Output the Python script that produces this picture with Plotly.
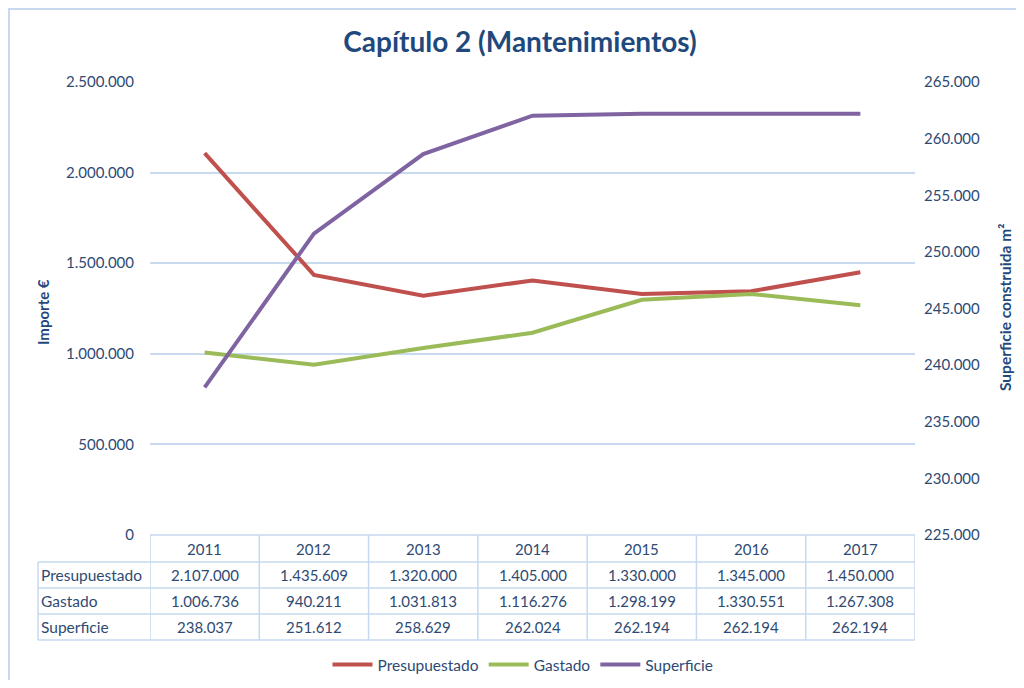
import plotly.graph_objects as go

years = ["2011", "2012", "2013", "2014", "2015", "2016", "2017"]
presupuestado = [2107000, 1435609, 1320000, 1405000, 1330000, 1345000, 1450000]
gastado = [1006736, 940211, 1031813, 1116276, 1298199, 1330551, 1267308]
superficie = [238037, 251612, 258629, 262024, 262194, 262194, 262194]
series_names = ["Presupuestado", "Gastado", "Superficie"]
left_ticks = [0, 500000, 1000000, 1500000, 2000000, 2500000]
right_ticks = [225000, 230000, 235000, 240000, 245000, 250000, 255000, 260000, 265000]

OFF = 8  # page body margin
W, H = 1024 - 2 * OFF, 688 - 2 * OFF
# plot area in reference (screen) pixels
L, R, T, B = 150, 915, 82, 535
PW, PH = R - L, B - T

def px(x):
    return (x - L) / PW

def py(y):
    return (B - y) / PH

def fmt(v):
    return f"{v:,}".replace(",", ".")

RED = "#C0504D"
GREEN = "#9BBB59"
PURPLE = "#8064A2"
TXT = "#2E4A73"
NAVY = "#1F497D"
GRID = "#C9DAEE"
FONT = "Lato"
FS = 15.5
FN = 15

fig = go.Figure()
xs = list(range(len(years)))
fig.add_trace(go.Scatter(x=xs, y=presupuestado, name=series_names[0], mode="lines",
                         line=dict(color=RED, width=4)))
fig.add_trace(go.Scatter(x=xs, y=gastado, name=series_names[1], mode="lines",
                         line=dict(color=GREEN, width=4)))
fig.add_trace(go.Scatter(x=xs, y=superficie, name=series_names[2], mode="lines",
                         line=dict(color=PURPLE, width=4), yaxis="y2"))

shapes = []
annotations = []

# outer chart border
shapes.append(dict(type="rect", xref="paper", yref="paper", x0=px(9), x1=px(1030),
                   y0=py(700), y1=py(9), line=dict(color="#C6D9F0", width=2), layer="below"))

# table geometry
row_edges = [535, 562, 588, 614, 640]
row_lbl_x0 = 38
tbl_line = dict(color="#C6D9F0", width=1.5)
for i, yy in enumerate(row_edges):
    x0 = px(row_lbl_x0) if i >= 1 else 0
    shapes.append(dict(type="line", xref="paper", yref="paper", x0=x0, x1=1,
                       y0=py(yy), y1=py(yy), line=tbl_line))
for k in range(len(years) + 1):
    shapes.append(dict(type="line", xref="x", yref="paper", x0=k - 0.5, x1=k - 0.5,
                       y0=py(row_edges[-1]), y1=py(row_edges[0]), line=tbl_line))
shapes.append(dict(type="line", xref="paper", yref="paper", x0=px(row_lbl_x0), x1=px(row_lbl_x0),
                   y0=py(row_edges[-1]), y1=py(row_edges[1]), line=tbl_line))

for k, yr in enumerate(years):
    annotations.append(dict(x=k, y=py((row_edges[0] + row_edges[1]) / 2), xref="x", yref="paper",
                            text=yr, showarrow=False, xanchor="center", yanchor="middle",
                            font=dict(family=FONT, size=FN, color=TXT)))
rows = [presupuestado, gastado, superficie]
for r, (name, vals) in enumerate(zip(series_names, rows)):
    yc = py((row_edges[r + 1] + row_edges[r + 2]) / 2)
    annotations.append(dict(x=px(row_lbl_x0 + 1), y=yc, xref="paper", yref="paper", text=name,
                            xanchor="left", yanchor="middle", showarrow=False,
                            font=dict(family=FONT, size=FS, color=TXT)))
    for k, v in enumerate(vals):
        annotations.append(dict(x=k, y=yc, xref="x", yref="paper", text=fmt(v), showarrow=False,
                                xanchor="center", yanchor="middle",
                                font=dict(family=FONT, size=FN, color=TXT)))

annotations.append(dict(x=px(43), y=py(312), xref="paper", yref="paper", text="<b>Importe €</b>",
                        textangle=-90, showarrow=False, xanchor="center", yanchor="middle",
                        font=dict(family=FONT, size=15, color=NAVY)))
annotations.append(dict(x=px(1005), y=py(308), xref="paper", yref="paper",
                        text="<b>Superficie construida m²</b>", textangle=-90, showarrow=False,
                        xanchor="center", yanchor="middle",
                        font=dict(family=FONT, size=15.5, color=NAVY)))

fig.update_layout(
    width=W, height=H,
    margin=dict(l=L - OFF, r=W - (R - OFF), t=T - OFF, b=H - (B - OFF), autoexpand=False),
    paper_bgcolor="white", plot_bgcolor="white",
    title=dict(text="<b>Capítulo 2 (Mantenimientos)</b>", x=(520 - OFF) / W, xanchor="center",
               y=1 - (42 - OFF) / H, yanchor="middle", font=dict(family=FONT, size=28, color=NAVY)),
    xaxis=dict(range=[-0.5, len(years) - 0.5], showticklabels=False, showgrid=False,
               zeroline=False, showline=False, fixedrange=True),
    yaxis=dict(range=[0, 2500000], tickvals=left_ticks, ticktext=[fmt(v) for v in left_ticks],
               showgrid=True, gridcolor=GRID, gridwidth=1.5, zeroline=False, showline=False,
               ticks="", ticklabelstandoff=15,
               tickfont=dict(family=FONT, size=FN, color=TXT)),
    yaxis2=dict(range=[225000, 265000], tickvals=right_ticks, ticktext=[fmt(v) for v in right_ticks],
                overlaying="y", side="right", showgrid=False, zeroline=False, showline=False,
                ticks="", ticklabelstandoff=8,
                tickfont=dict(family=FONT, size=FN, color=TXT)),
    legend=dict(orientation="h", x=px(523), xanchor="center", y=py(665), yanchor="middle",
                font=dict(family=FONT, size=FS, color=TXT), itemwidth=40, traceorder="normal"),
    shapes=shapes, annotations=annotations,
)

fig.write_html("out.html")
